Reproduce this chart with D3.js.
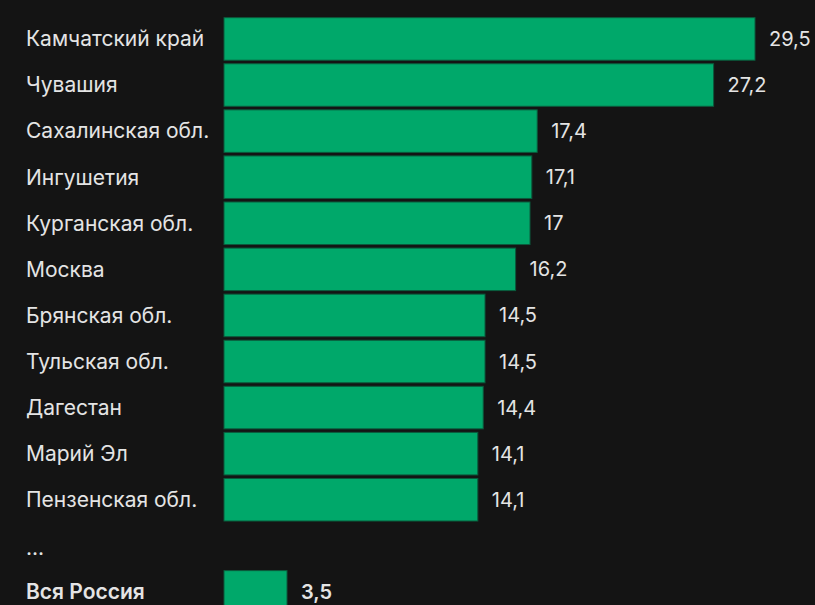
<!DOCTYPE html>
<html>
<head>
<meta charset="utf-8">
<script src="https://cdn.jsdelivr.net/npm/d3@7"></script>
<style>
  html, body { margin: 0; padding: 0; background: #141414; }
  svg { display: block; }
</style>
</head>
<body>
<svg width="815" height="605"></svg>
<script>
const regions = ['Камчатский край', 'Чувашия', 'Сахалинская обл.', 'Ингушетия', 'Курганская обл.',
    'Москва', 'Брянская обл.', 'Тульская обл.', 'Дагестан', 'Марий Эл', 'Пензенская обл.'];
const values = [29.5, 27.2, 17.4, 17.1, 17, 16.2, 14.5, 14.5, 14.4, 14.1, 14.1];
const totalLabel = 'Вся Россия';
const totalValue = 3.5;

const svg = d3.select('svg');

// rows: regions, a "..." gap row, then the national total
const rows = regions.map((r, i) => ({ name: r, value: values[i], total: false }));
rows.push({ name: '...', value: null, total: false });
rows.push({ name: totalLabel, value: totalValue, total: true });

const yScale = d3.scaleBand()
    .domain(d3.range(rows.length))
    .range([15.9, 15.9 + rows.length * 46.08])
    .paddingInner(0.055)
    .paddingOuter(0.0275);

const xScale = d3.scaleLinear()
    .domain([0, 30])
    .range([224, 224 + 30 * 18]);

const fmt = v => String(v).replace('.', ',');

const bars = rows.filter(d => d.value !== null);

svg.append('g')
    .selectAll('rect')
    .data(bars)
    .join('rect')
    .attr('x', xScale(0))
    .attr('y', d => yScale(rows.indexOf(d)) + 0.5)
    .attr('width', d => xScale(d.value) - xScale(0))
    .attr('height', yScale.bandwidth() - 1)
    .attr('fill', '#00a86a')
    .attr('stroke', '#0b5a3c')
    .attr('stroke-width', 1);

svg.append('g')
    .selectAll('text')
    .data(rows)
    .join('text')
    .attr('x', 26)
    .attr('y', (d, i) => yScale(i) + yScale.bandwidth() / 2 + (d.name === '...' ? 2 : 0))
    .attr('dy', '0.35em')
    .attr('fill', '#e4e4e4')
    .attr('font-family', 'Inter, sans-serif')
    .attr('font-size', 21)
    .attr('font-weight', d => d.total ? 600 : 400)
    .text(d => d.name);

svg.append('g')
    .selectAll('text')
    .data(bars)
    .join('text')
    .attr('x', d => xScale(d.value) + 14)
    .attr('y', d => yScale(rows.indexOf(d)) + yScale.bandwidth() / 2)
    .attr('dy', '0.35em')
    .attr('fill', '#e4e4e4')
    .attr('font-family', 'Inter, sans-serif')
    .attr('font-size', 20)
    .attr('font-weight', d => d.total ? 600 : 400)
    .text(d => fmt(d.value));
</script>
</body>
</html>
